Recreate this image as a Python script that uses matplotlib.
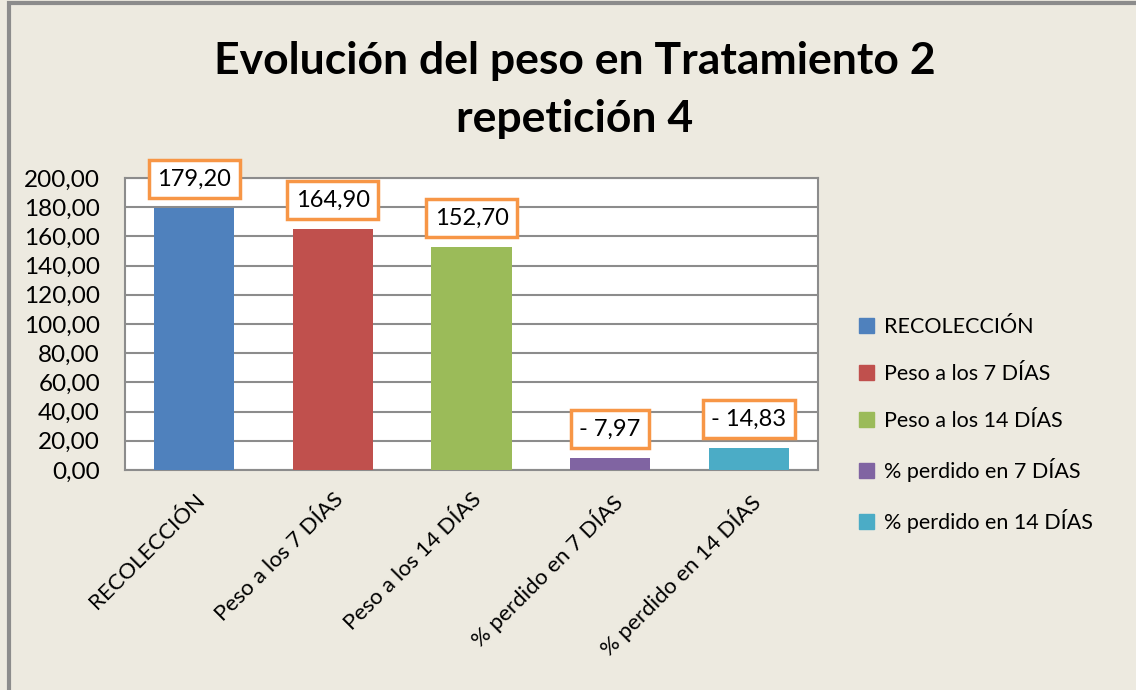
import matplotlib
matplotlib.use("Agg")
import matplotlib.pyplot as plt
from matplotlib.patches import Rectangle, Patch
from matplotlib.ticker import FuncFormatter

categories = ["RECOLECCIÓN", "Peso a los 7 DÍAS", "Peso a los 14 DÍAS",
              "% perdido en 7 DÍAS", "% perdido en 14 DÍAS"]
values = [179.20, 164.90, 152.70, 7.97, 14.83]
value_labels = ["179,20", "164,90", "152,70", "- 7,97", "- 14,83"]
colors = ["#4F81BD", "#C0504D", "#9BBB59", "#8064A2", "#4BACC6"]
yticks = [0, 20, 40, 60, 80, 100, 120, 140, 160, 180, 200]

W, H = 1136, 690
plt.rcParams['font.family'] = ['Lato', 'DejaVu Sans']
fig = plt.figure(figsize=(W / 100, H / 100), dpi=100)
fig.patch.set_facecolor("#EDEAE0")

# outer chart border
fig.patches.append(Rectangle((9 / W, -0.1), 1.2, (H - 3) / H + 0.1, transform=fig.transFigure,
                             fill=False, edgecolor="#8C8C8C", linewidth=3))

ax = fig.add_axes([125 / W, 1 - 470 / H, (818 - 125) / W, (470 - 178) / H])
ax.set_facecolor("white")
x = range(len(categories))
ax.bar(x, values, width=0.58, color=colors, zorder=3)
ax.set_xlim(-0.5, len(categories) - 0.5)
ax.set_ylim(0, 200)
ax.set_yticks(yticks)
ax.yaxis.set_major_formatter(FuncFormatter(lambda v, p: f"{v:.2f}".replace(".", ",")))
ax.grid(axis="y", color="#8C8C8C", linewidth=1.5, zorder=0)
for s in ax.spines.values():
    s.set_color("#8C8C8C")
    s.set_linewidth(1.5)
ax.tick_params(axis="y", length=0, labelsize=17.5, pad=18)
ax.tick_params(axis="x", length=0, labelsize=16, pad=14)
ax.set_xticks(list(x))
ax.set_xticklabels(categories, rotation=45, ha="right", rotation_mode="anchor")

for xi, v, lab in zip(x, values, value_labels):
    ax.annotate(lab, (xi, v), xytext=(0, 21), textcoords="offset points",
                ha="center", va="center", fontsize=17, zorder=5,
                bbox=dict(boxstyle="square,pad=0.36", fc="white", ec="#F79646", lw=2.5))

handles = [Patch(color=c) for c in colors]
fig.legend(handles, categories, loc="upper left", bbox_to_anchor=(840 / W, 1 - 298 / H),
           frameon=False, fontsize=15.5, handlelength=0.7, handleheight=0.7,
           handletextpad=0.45, labelspacing=1.25)

fig.text(575 / W, 1 - 61 / H, "Evolución del peso en Tratamiento 2", ha="center", va="center",
         fontsize=32, fontweight="bold")
fig.text(575 / W, 1 - 119 / H, "repetición 4", ha="center", va="center",
         fontsize=32, fontweight="bold")

fig.savefig("out.png", dpi=100, facecolor=fig.get_facecolor())
